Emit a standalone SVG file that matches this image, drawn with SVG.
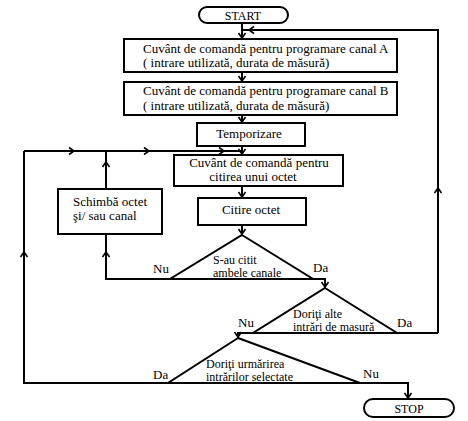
<svg xmlns="http://www.w3.org/2000/svg" width="468" height="421" viewBox="0 0 468 421">
<style>
.n{fill:#fff;stroke:#000;stroke-width:2}
.c{fill:none;stroke:#000;stroke-width:2}
text{font-family:"Liberation Serif","Times New Roman","DejaVu Serif",serif;font-size:13px;fill:#000}
.m{text-anchor:middle}
.s{font-size:12px}
</style>
<defs>
<marker id="ah" markerUnits="userSpaceOnUse" markerWidth="10" markerHeight="10" refX="7" refY="5" orient="auto">
<path d="M2,1.5 L7,5 L2,8.5" fill="none" stroke="#000" stroke-width="1.6"/>
</marker>
</defs>
<rect width="468" height="421" fill="#fff"/>
<g id="connectors">
<path class="c" d="M242,23 V38" marker-end="url(#ah)"/>
<path class="c" d="M438,333 V188" marker-end="url(#ah)"/>
<path class="c" d="M438,188 V30 H249" marker-end="url(#ah)"/>
<path class="c" d="M249,30 H242"/>
<path class="c" d="M242,72 V81" marker-end="url(#ah)"/>
<path class="c" d="M242,115 V122" marker-end="url(#ah)"/>
<path class="c" d="M242,146 V154" marker-end="url(#ah)"/>
<path class="c" d="M24,151 H74" marker-end="url(#ah)"/>
<path class="c" d="M74,151 H149" marker-end="url(#ah)"/>
<path class="c" d="M149,151 H224" marker-end="url(#ah)"/>
<path class="c" d="M224,151 H242"/>
<path class="c" d="M242,186 V197" marker-end="url(#ah)"/>
<path class="c" d="M242,225 V234" marker-end="url(#ah)"/>
<path class="c" d="M170,279 H106 V252" marker-end="url(#ah)"/>
<path class="c" d="M106,252 V234"/>
<path class="c" d="M106,189 V162" marker-end="url(#ah)"/>
<path class="c" d="M106,162 V151"/>
<path class="c" d="M313,279 H325 V287" marker-end="url(#ah)"/>
<path class="c" d="M397,333 H438"/>
<path class="c" d="M253,333 H238 V337" marker-end="url(#ah)"/>
<path class="c" d="M168,383 H24 V252" marker-end="url(#ah)"/>
<path class="c" d="M24,252 V151"/>
<path class="c" d="M360,383 H408 V398" marker-end="url(#ah)"/>
</g>
<g id="start">
<rect class="n" x="199" y="7" width="89" height="16" rx="8"/>
<text class="m s" x="243" y="19.5">START</text>
</g>
<g id="boxA">
<rect class="n" x="124" y="39" width="273" height="33"/>
<text x="143" y="53">Cuvânt de comandă pentru programare canal A</text>
<text x="143" y="67">( intrare utilizată, durata de măsură)</text>
</g>
<g id="boxB">
<rect class="n" x="124" y="82" width="273" height="33"/>
<text x="143" y="95">Cuvânt de comandă pentru programare canal B</text>
<text x="143" y="110">( intrare utilizată, durata de măsură)</text>
</g>
<g id="temporizare">
<rect class="n" x="197" y="123" width="108" height="23"/>
<text class="m" x="249" y="138">Temporizare</text>
</g>
<g id="boxC">
<rect class="n" x="174" y="155" width="169" height="31"/>
<text class="m" x="259" y="167">Cuvânt de comandă pentru</text>
<text class="m" x="253" y="181">citirea unui octet</text>
</g>
<g id="citire">
<rect class="n" x="198" y="198" width="108" height="27"/>
<text class="m" x="251" y="214">Citire octet</text>
</g>
<g id="schimba">
<rect class="n" x="58" y="189" width="104" height="45"/>
<text x="73" y="206">Schimbă octet</text>
<text x="73" y="220">şi/ sau canal</text>
</g>
<g id="decizie1">
<path class="n" d="M242,235 L313,279 L170,279 Z"/>
<text class="s" x="213" y="264">S-au citit</text>
<text class="s" x="213" y="277">ambele canale</text>
<text x="153" y="273">Nu</text>
<text x="313" y="272">Da</text>
</g>
<g id="decizie2">
<path class="n" d="M325,288 L397,333 L253,333 Z"/>
<text class="s" x="293" y="318">Doriţi alte</text>
<text class="s" x="293" y="331">intrări de masură</text>
<text x="238" y="327">Nu</text>
<text x="397" y="327">Da</text>
</g>
<g id="decizie3">
<path class="n" d="M238,338 L360,383 L168,383 Z"/>
<text class="s" x="206" y="368">Doriţi urmărirea</text>
<text class="s" x="206" y="381">intrărilor selectate</text>
<text x="153" y="379">Da</text>
<text x="363" y="378">Nu</text>
</g>
<g id="stop">
<rect class="n" x="364" y="399" width="90" height="18" rx="9"/>
<text class="m s" x="409" y="412.5">STOP</text>
</g>
</svg>
